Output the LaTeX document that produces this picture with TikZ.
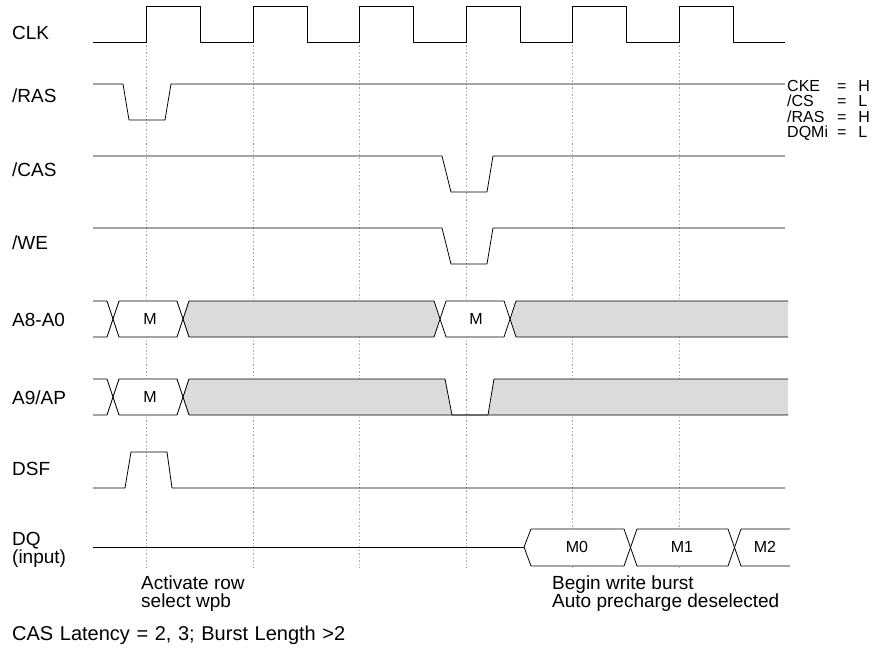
\documentclass[tikz,border=0pt]{standalone}
\usepackage{fontspec}
\setmainfont{Liberation Sans}

\begin{document}
\begin{tikzpicture}[x=1pt, y=-1pt, line join=round,
        sig/.style={line width=0.8pt},
        tck/.style={gray!65, dash pattern=on 1.5pt off 2pt, line width=0.5pt},
        stipple/.style={fill=black!14},
        lbl/.style={anchor=west, inner sep=0pt, font=\fontsize{19}{18}\selectfont},
        busval/.style={inner sep=0pt, font=\fontsize{16}{16}\selectfont}]
        \useasboundingbox (0,0) rectangle (888,652);
        % clock edges
        \foreach \t in {146,253,359,466,572,679}
            \draw[tck] (\t,42) -- (\t,568);

        \draw[sig] (93,42) \foreach \t in {146,253,359,466,572,679} { -- (\t,42) -- (\t,6) -- ({\t+54},6) -- ({\t+54},42) } -- (785,42); % CLK
        \draw[sig] (93,84) -- (123,84) -- (129,120) -- (165,120) -- (171,84) -- (785,84);
        \draw[sig] (93,156) -- (442,156) -- (451,192) -- (487,192) -- (493,156) -- (785,156);
        \draw[sig] (93,228) -- (442,228) -- (451,264) -- (487,264) -- (493,228) -- (785,228);

        % A8-A0
        \fill[white] (113,319) -- (119,301) -- (177,301) -- (183,319) -- (177,337) -- (119,337) -- cycle;
        \fill[white] (440,319) -- (446,301) -- (504,301) -- (510,319) -- (504,337) -- (446,337) -- cycle;
        \fill[stipple] (183,319) -- (189,301) -- (434,301) -- (440,319) -- (434,337) -- (189,337) -- cycle;
        \fill[stipple] (510,319) -- (516,301) -- (788,301) -- (788,337) -- (516,337) -- cycle;
        \draw[sig] (93,301) -- (107,301) -- (119,337) -- (177,337) -- (189,301) -- (434,301) -- (446,337) -- (504,337) -- (516,301) -- (788,301);
        \draw[sig] (93,337) -- (107,337) -- (119,301) -- (177,301) -- (189,337) -- (434,337) -- (446,301) -- (504,301) -- (516,337) -- (788,337);

        % A9/AP
        \fill[white] (113,397) -- (119,379) -- (177,379) -- (183,397) -- (177,415) -- (119,415) -- cycle;
        \fill[stipple] (183,397) -- (189,379) -- (445,379) -- (452,415) -- (189,415) -- cycle;
        \fill[stipple] (488,415) -- (494,379) -- (788,379) -- (788,415) -- cycle;
        \draw[sig] (93,379) -- (107,379) -- (119,415) -- (177,415) -- (189,379) -- (445,379) -- (452,415) -- (488,415) -- (494,379) -- (788,379);
        \draw[sig] (93,415) -- (107,415) -- (119,379) -- (177,379) -- (189,415) -- (788,415);

        \draw[sig] (93,488) -- (125,488) -- (131,452) -- (167,452) -- (172,488) -- (785,488); % DSF

        % DQ
        \fill[white] (524,547) -- (531,529) -- (624,529) -- (630,547) -- (637,529) -- (728,529) -- (734,547) -- (741,529) -- (790,529)
            -- (790,566) -- (741,566) -- (734,547) -- (728,566) -- (637,566) -- (630,547) -- (624,566) -- (531,566) -- cycle;
        \draw[sig] (93,547) -- (524,547);
        \draw[sig] (524,547) -- (531,529) -- (624,529) -- (637,566) -- (728,566) -- (741,529) -- (790,529);
        \draw[sig] (524,547) -- (531,566) -- (624,566) -- (637,529) -- (728,529) -- (741,566) -- (790,566);

        \node[busval] (ma) at (150,319) {M};
        \node[busval] (mb) at (476,319) {M};
        \node[busval] (mc) at (150,397) {M};
        \node[busval] (m0) at (577,547) {M0};
        \node[busval] (m1) at (682,547) {M1};
        \node[busval] (m2) at (765,547) {M2};

        \node[lbl] (clk) at (12,33) {CLK};
        \node[lbl] (ras) at (12,96) {/RAS};
        \node[lbl] (cas) at (12,170) {/CAS};
        \node[lbl] (we) at (12,243) {/WE};
        \node[lbl] (addr) at (12,320) {A8-A0};
        \node[lbl] (ap) at (12,398) {A9/AP};
        \node[lbl] (dsf) at (12,469) {DSF};
        \node[lbl, anchor=north west, align=left] (dq) at (12,532) {DQ\\(input)};

        \node[anchor=north west, inner sep=0pt, font=\fontsize{16}{13}\selectfont] (cond) at (787,80)
            {\begin{tabular}{@{}l@{\hspace{9pt}}l@{\hspace{12pt}}l@{}}CKE & = & H\\ /CS & = & L\\ /RAS & = & H\\ DQMi & = & L\end{tabular}};

        \node[lbl, anchor=north west, align=left] (act) at (141,576) {Activate row\\select wpb};
        \node[lbl, anchor=north west, align=left] (wr) at (552,576) {Begin write burst\\Auto precharge deselected};
        \node[lbl, font=\fontsize{20}{18}\selectfont] (lat) at (12,635) {\spaceskip=0.33em\relax CAS Latency = 2, 3; Burst Length >2};
    \end{tikzpicture}
\end{document}
